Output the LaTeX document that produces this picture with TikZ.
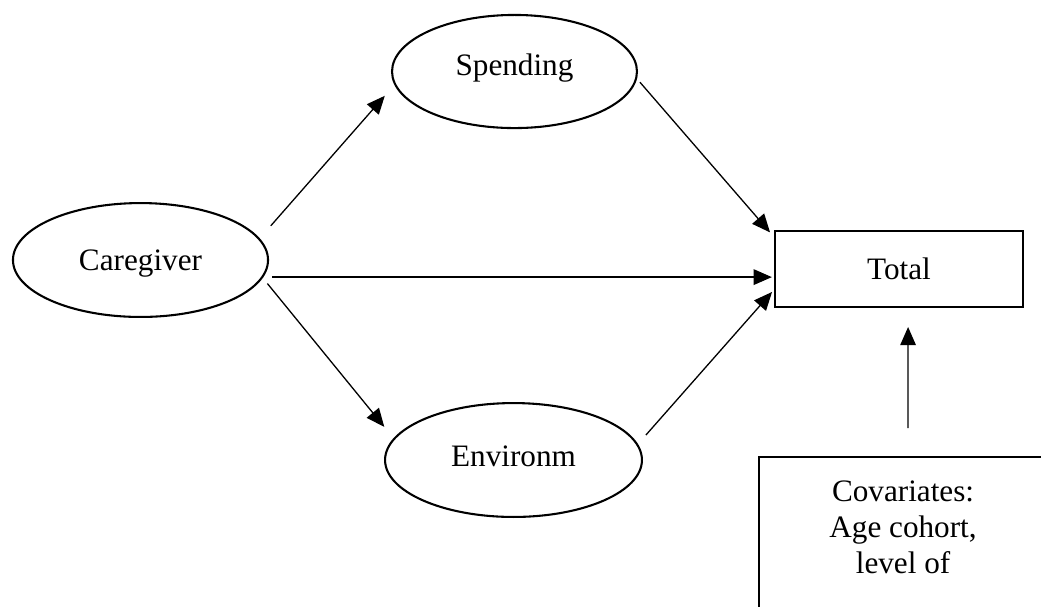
\documentclass[tikz,border=0pt]{standalone}
\usepackage{fontspec}
\setmainfont{Liberation Serif}
\usetikzlibrary{positioning, shapes, arrows.meta}
\tikzset{
  latent/.style={draw, ellipse, line width=0.8pt, inner sep=0pt, outer sep=0pt, font=\fontsize{12}{14}\selectfont},
  obs/.style={draw, rectangle, line width=0.8pt, inner sep=0pt, outer sep=0pt, font=\fontsize{12}{14}\selectfont},
  arr/.style={line width=0.5pt, -{Triangle[length=7pt,width=6pt]}}}

\begin{document}
\begin{tikzpicture}[x=0.3846pt,y=-0.3846pt]
	\useasboundingbox (0,0) rectangle (1041,606);
	\node[latent, minimum width=98.1pt, minimum height=43.8pt, text depth=0pt] (care) at (140.5,260) {Caregiver};
	\node[latent, minimum width=94.2pt, minimum height=43.5pt, text depth=5pt] (spend) at (514.5,71.5) {Spending};
\node[latent, minimum width=98.8pt, minimum height=43.8pt, text depth=2.6pt] (env) at (513.5,460) {Environm};
\node[obs, minimum width=95.4pt, minimum height=29.2pt] (total) at (899,269) {Total};
\node[obs, anchor=north west, minimum width=110.8pt, minimum height=80pt] (cov) at (759,457) {};
\node[font=\fontsize{12}{14}\selectfont, align=center, inner sep=0pt, below=8.8pt of cov.north] (covtxt) {Covariates:\\Age cohort,\\level of};
% paths
\draw[arr, shorten <=6.8pt, shorten >=6pt] (care.10) -- (spend.186);
\draw[arr, shorten <=2.2pt, shorten >=2.9pt] (spend.-3) -- (total.166);
\draw[arr, shorten <=3.8pt, shorten >=1.2pt] (care.-8) -- (care.-8 -| total.west);
\draw[arr, shorten <=3.2pt, shorten >=6pt] (care.-8) -- (env.170);
\draw[arr, shorten <=5pt, shorten >=1.7pt] (env.7) -- (total.189);
\draw[arr, shorten <=11.1pt, shorten >=7.7pt] ([xshift=1.9pt]cov.north) -- ([xshift=3.5pt]total.south);
	\end{tikzpicture}
\end{document}
